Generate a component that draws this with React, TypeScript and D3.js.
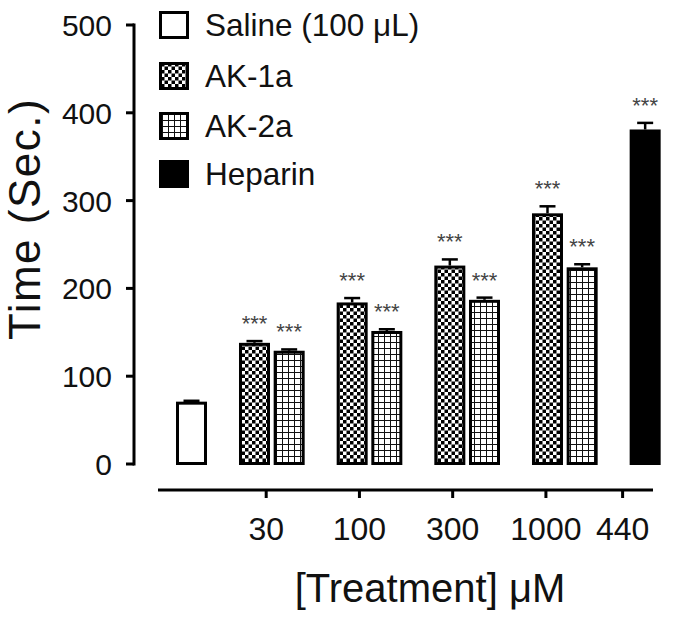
import React from "react";
import * as d3 from "d3";

// values (seconds)
const concLabels = ["30", "100", "300", "1000", "440"];
const salineMean = [71];
const salineErr = [1];
const ak1aMean = [138, 184, 226, 285.5];
const ak1aErr = [2, 5, 7, 8];
const ak2aMean = [129, 151.5, 187, 224];
const ak2aErr = [1.5, 2, 2.5, 3.5];
const heparinMean = [381];
const heparinErr = [7.5];
const yTicks = [0, 100, 200, 300, 400, 500];
const legendLabels = ["Saline (100 \u03bcL)", "AK-1a", "AK-2a", "Heparin"];
const legendFills = ["#fff", "url(#checker)", "url(#grid)", "#000"];

const FONT = "'Liberation Sans', Arial, sans-serif";
const W = 685;
const H = 619;

export default function App() {
  const y = d3.scaleLinear().domain([0, 500]).range([464, 25]);

  // slot units: one unit per bar, plus a gap between groups
  const gap = 0.817;
  const barW = 31;
  const xBar = d3.scaleLinear().domain([0, 1]).range([176, 210.67]);
  // the drawn x axis is a little compressed compared to the bars
  const xAxis = d3.scaleLinear().domain([0, 1]).range([174.7, 207.8]);

  type Bar = { mean: number; err: number; fill: string; pos: number; stars: boolean };
  const bars: Bar[] = [];
  bars.push({ mean: salineMean[0], err: salineErr[0], fill: "#fff", pos: 0, stars: false });
  ak1aMean.forEach((m, i) => {
    bars.push({ mean: m, err: ak1aErr[i], fill: "url(#checker)", pos: 1 + 2 * i + gap * (i + 1), stars: true });
    bars.push({ mean: ak2aMean[i], err: ak2aErr[i], fill: "url(#grid)", pos: 2 + 2 * i + gap * (i + 1), stars: true });
  });
  bars.push({ mean: heparinMean[0], err: heparinErr[0], fill: "#000", pos: 9 + gap * 5, stars: true });

  const unitW = barW / (xBar(1) - xBar(0));
  const tickCenters = [
    ...ak1aMean.map((_, i) => (1 + 2 * i + gap * (i + 1)) + (1 + unitW) / 2),
    9 + gap * 5 + unitW / 2,
  ];

  const sw = 3;

  return (
    <svg width={W} height={H} style={{ position: "absolute", left: 0, top: 0, background: "#fff" }} fontFamily={FONT}>
      <defs>
        <pattern id="checker" patternUnits="userSpaceOnUse" width={7} height={7}>
          <rect width={7} height={7} fill="#fff" />
          <rect width={3.5} height={3.5} fill="#000" />
          <rect x={3.5} y={3.5} width={3.5} height={3.5} fill="#000" />
        </pattern>
        <pattern id="grid" patternUnits="userSpaceOnUse" width={6} height={6}>
          <rect width={6} height={6} fill="#fff" />
          <line x1={0.5} y1={0} x2={0.5} y2={6} stroke="#111" strokeWidth={1} />
          <line x1={0} y1={0.5} x2={6} y2={0.5} stroke="#111" strokeWidth={1} />
        </pattern>
      </defs>

      {/* bars */}
      {bars.map((b, i) => {
        const x0 = xBar(b.pos);
        const top = y(b.mean);
        const errTop = y(b.mean + b.err);
        const cx = x0 + barW / 2;
        return (
          <g key={i}>
            <line x1={cx} x2={cx} y1={top} y2={errTop} stroke="#000" strokeWidth={2.5} />
            <line x1={cx - 8} x2={cx + 8} y1={errTop} y2={errTop} stroke="#000" strokeWidth={2.5} />
            <rect
              x={x0 + sw / 2}
              y={top + sw / 2}
              width={barW - sw}
              height={y(0) + 1 - top - sw}
              fill={b.fill}
              stroke="#000"
              strokeWidth={sw}
            />
            {b.stars && (
              <text x={cx} y={errTop - 10} textAnchor="middle" fontSize={22} fill="#444">
                ***
              </text>
            )}
          </g>
        );
      })}

      {/* y axis */}
      <line x1={134} x2={134} y1={y(500) - 1.5} y2={y(0) + 1.5} stroke="#000" strokeWidth={sw} />
      {yTicks.map((t) => (
        <g key={t}>
          <line x1={126} x2={134} y1={y(t)} y2={y(t)} stroke="#000" strokeWidth={sw} />
          <text x={112} y={y(t) + 11} textAnchor="end" fontSize={30} fill="#111">
            {t}
          </text>
        </g>
      ))}
      <text
        transform={`translate(40, ${219}) rotate(-90)`}
        textAnchor="middle"
        fontSize={44}
        letterSpacing={1.5}
        fill="#111"
      >
        Time (Sec.)
      </text>

      {/* x axis */}
      <line x1={158} x2={653} y1={490} y2={490} stroke="#000" strokeWidth={sw} />
      {tickCenters.map((c, i) => (
        <g key={i}>
          <line x1={xAxis(c)} x2={xAxis(c)} y1={490} y2={498} stroke="#000" strokeWidth={sw} />
          <text x={xAxis(c)} y={540} textAnchor="middle" fontSize={32} fill="#111">
            {concLabels[i]}
          </text>
        </g>
      ))}
      <text x={430} y={602} textAnchor="middle" fontSize={40} fill="#111">
        [Treatment] {"\u03bc"}M
      </text>

      {/* legend */}
      {legendLabels.map((l, i) => {
        const cy = [25, 76, 126, 174][i];
        return (
          <g key={l}>
            <rect x={160.5} y={cy - 12.5} width={27} height={25} fill={legendFills[i]} stroke="#000" strokeWidth={sw} />
            <text x={205} y={cy + 11} fontSize={31.5} fill="#111">
              {l}
            </text>
          </g>
        );
      })}
    </svg>
  );
}
